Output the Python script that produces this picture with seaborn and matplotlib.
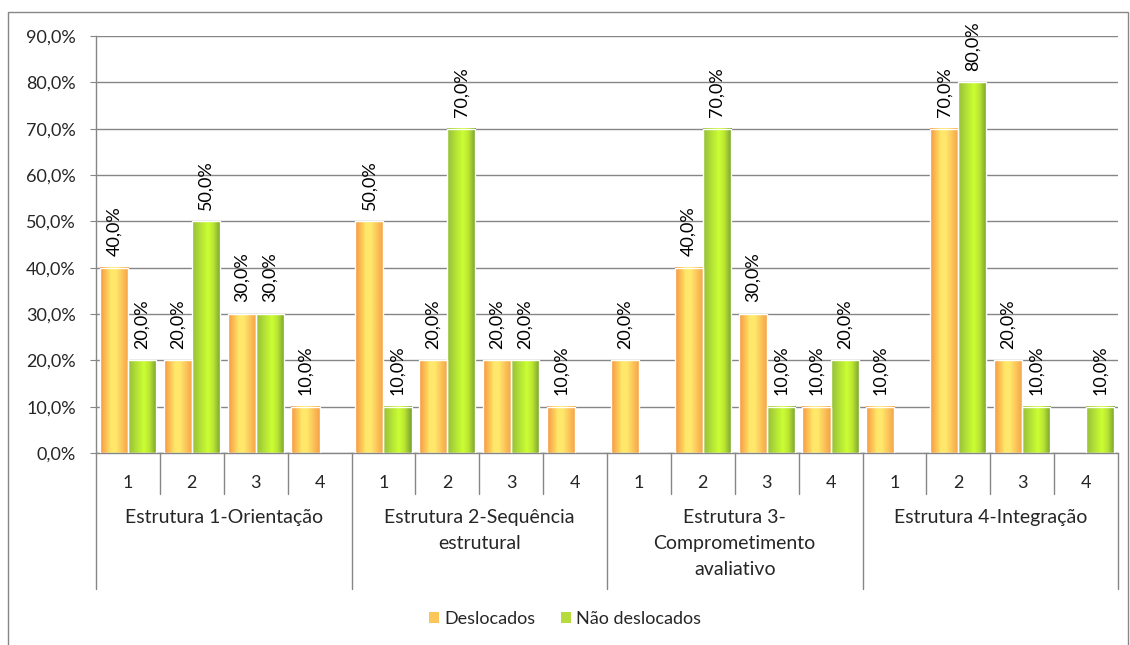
import numpy as np
import pandas as pd
import matplotlib
matplotlib.use('Agg')
import matplotlib.pyplot as plt
import seaborn as sns
from matplotlib.colors import LinearSegmentedColormap
from matplotlib.patches import Rectangle

# data
estruturas = ['Estrutura 1-Orientação', 'Estrutura 2-Sequência\nestrutural',
              'Estrutura 3-\nComprometimento\navaliativo', 'Estrutura 4-Integração']
niveis = ['1', '2', '3', '4']
series = ['Deslocados', 'Não deslocados']
deslocados = [40, 20, 30, 10,  50, 20, 20, 10,  20, 40, 30, 10,  10, 70, 20, 0]
nao_deslocados = [20, 50, 30, 0,  10, 70, 20, 0,  0, 70, 10, 20,  0, 80, 10, 10]

keys = [f'{e}|{n}' for e in range(len(estruturas)) for n in niveis]
df = pd.DataFrame({
    'key': keys * 2,
    'serie': [series[0]] * len(keys) + [series[1]] * len(keys),
    'valor': deslocados + nao_deslocados,
})

sns.set_style('white')
plt.rcParams['font.family'] = ['Lato', 'DejaVu Sans']
grey = '#868686'
fs = 13

fig = plt.figure(figsize=(11.3, 6.45), dpi=100)
ax = fig.add_axes([96/1130, 192/645, 1022/1130, 417/645])

sns.barplot(data=df, x='key', y='valor', hue='serie', order=keys, hue_order=series,
            palette=['#FBC55A', '#B5DC3C'], width=0.88, legend=False, ax=ax,
            edgecolor='white', linewidth=1, zorder=3)

# gradient fills like the original
cm_or = LinearSegmentedColormap.from_list('or', [(0, '#F7953F'), (0.38, '#FFE86A'),
                                                 (0.55, '#FFE86A'), (1, '#F7A048')])
cm_gr = LinearSegmentedColormap.from_list('gr', [(0, '#97BE3A'), (0.55, '#CCFF33'),
                                                 (0.75, '#B9E433'), (1, '#77A030')])
grad = np.linspace(0, 1, 64).reshape(1, -1)
for cont, cmap in zip(ax.containers, [cm_or, cm_gr]):
    for p in cont.patches:
        h = p.get_height()
        if h <= 0:
            continue
        x0 = p.get_x()
        ax.imshow(grad, cmap=cmap, extent=[x0, x0 + p.get_width(), 0, h],
                  aspect='auto', zorder=2.5, interpolation='bicubic')
        p.set_facecolor('none')
        xc = x0 + p.get_width() / 2
        ax.annotate(f'{h:.1f}%'.replace('.', ','), (xc, h), xytext=(0, 8.5),
                    textcoords='offset points', rotation=90, ha='center',
                    va='bottom', fontsize=fs, color='black')

ax.set_xlim(-0.5, len(keys) - 0.5)
ax.set_ylim(0, 90)
ax.set_yticks(range(0, 91, 10))
ax.set_yticklabels([f'{v},0%' for v in range(0, 91, 10)], fontsize=fs)
ax.yaxis.grid(True, color=grey, lw=1, zorder=0)
ax.set_axisbelow(True)
ax.tick_params(axis='y', left=True, length=4.5, color=grey, pad=10)
ax.set_xticks([])
ax.set_xlabel('')
ax.set_ylabel('')
for s in ['top', 'right']:
    ax.spines[s].set_visible(False)
for s in ['left', 'bottom']:
    ax.spines[s].set_color(grey)
    ax.spines[s].set_linewidth(1)

# multi-level category axis
tr = ax.get_xaxis_transform()
for i in range(len(keys) + 1):
    x = i - 0.5
    y1 = -0.325 if i % 4 == 0 else -0.098
    ax.plot([x, x], [0, y1], color=grey, lw=1, transform=tr, clip_on=False)
for i, k in enumerate(keys):
    ax.text(i, -0.069, k.split('|')[1], transform=tr, ha='center',
            va='center_baseline', fontsize=fs)
for g, e in enumerate(estruturas):
    ax.text(g * 4 + 1.5, -0.135, e, transform=tr, ha='center', va='top',
            fontsize=14, linespacing=1.65)

# legend
handles = [Rectangle((0, 0), 1, 1, facecolor=c, edgecolor='none')
           for c in ['#FBC55A', '#B5DC3C']]
fig.legend(handles, series, loc='center', bbox_to_anchor=(0.5, 1 - 619/645),
           ncol=2, frameon=False, fontsize=fs, handlelength=0.55, handleheight=0.55,
           handletextpad=0.3, columnspacing=1.4)

# outer chart border
fig.patches.append(Rectangle((8/1130, -0.05), 1120/1130, 1.05 - 12/645,
                             transform=fig.transFigure, fill=False,
                             edgecolor=grey, lw=1))

fig.savefig('out.png', dpi=100)
